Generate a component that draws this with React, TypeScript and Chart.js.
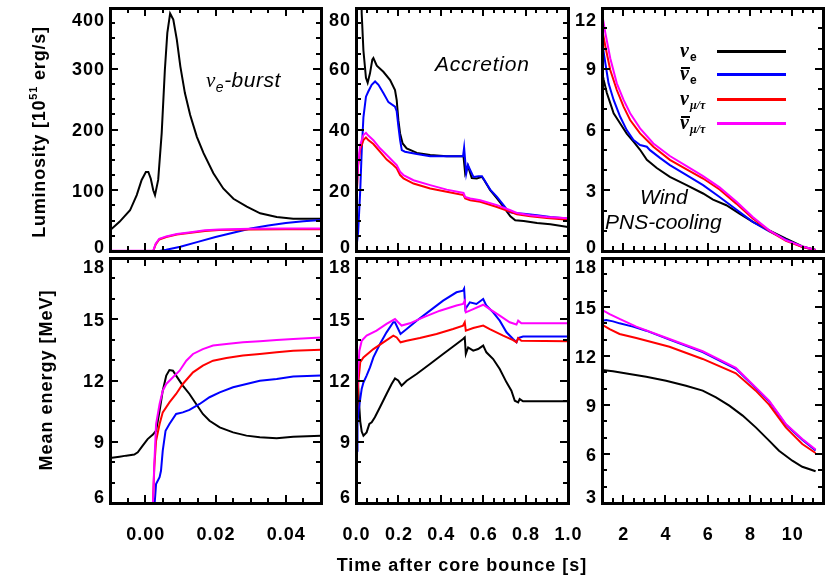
import React, { useEffect, useRef } from 'react';
import { Chart, registerables } from 'chart.js';

Chart.register(...registerables);

type Pt = [number, number];

const burstXTicks = [0, 0.02, 0.04];
const burstXLabels = ['0.00', '0.02', '0.04'];
const accXTicks = [0, 0.2, 0.4, 0.6, 0.8, 1.0];
const accXLabels = ['0.0', '0.2', '0.4', '0.6', '0.8', '1.0'];
const coolXTicks = [2, 4, 6, 8, 10];
const coolXLabels = ['2', '4', '6', '8', '10'];
const lumBurstYTicks = [0, 100, 200, 300, 400];
const lumAccYTicks = [0, 20, 40, 60, 80];
const lumCoolYTicks = [0, 3, 6, 9, 12];
const enYTicks = [6, 9, 12, 15, 18];
const enCoolYTicks = [3, 6, 9, 12, 15, 18];

const burstLumNuE: Pt[] = [
  [-0.01, 34], [-0.0073, 48], [-0.0043, 67], [-0.0024, 92], [-0.001, 117], [0.0002, 130], [0.0009, 130],
  [0.0016, 119], [0.0023, 100], [0.0028, 92], [0.0037, 117], [0.0047, 194], [0.0056, 298], [0.0063, 359],
  [0.0071, 391], [0.008, 381], [0.009, 348], [0.01, 304], [0.0113, 260], [0.0128, 224], [0.0147, 188],
  [0.0166, 161], [0.0194, 128], [0.0222, 103], [0.0251, 86], [0.0289, 73], [0.0327, 62], [0.0374, 56],
  [0.0421, 53], [0.05, 53],
];
const burstLumNuEbar: Pt[] = [
  [-0.01, 0], [0.004, 0], [0.006, 2], [0.01, 7], [0.015, 15], [0.02, 23], [0.025, 30], [0.03, 37],
  [0.035, 42], [0.04, 46], [0.045, 49], [0.05, 51],
];
const burstLumNuX: Pt[] = [
  [-0.01, 0], [0.0023, 0], [0.003, 11], [0.004, 19], [0.006, 23], [0.009, 27], [0.013, 30], [0.017, 33],
  [0.021, 34.5], [0.03, 35.5], [0.04, 36], [0.05, 36],
];
const burstLumNuXbar: Pt[] = [
  [-0.01, 0.5], [0.0023, 0.5], [0.003, 12], [0.004, 20], [0.006, 24], [0.009, 28], [0.013, 31], [0.017, 34],
  [0.021, 35.5], [0.03, 36.5], [0.04, 37], [0.05, 37],
];

const accLumNuE: Pt[] = [
  [0, 130], [0.007, 392], [0.014, 190], [0.02, 100], [0.027, 78], [0.035, 66], [0.047, 57], [0.055, 55.4],
  [0.066, 58.5], [0.077, 63], [0.082, 63.5], [0.098, 61], [0.129, 59], [0.161, 56.3], [0.184, 53],
  [0.192, 49.7], [0.2, 43], [0.208, 38.7], [0.22, 35.4], [0.239, 33.8], [0.287, 32.3], [0.35, 31.6],
  [0.428, 31.2], [0.507, 31.2], [0.515, 25.5], [0.528, 28], [0.546, 24], [0.57, 23.9], [0.594, 24.4],
  [0.605, 23.3], [0.633, 20], [0.665, 17.3], [0.696, 14.5], [0.728, 11.4], [0.751, 10.1], [0.791, 9.9],
  [0.854, 9.2], [0.917, 8.8], [1.0, 7.9],
];
const accLumNuEbar: Pt[] = [
  [0, 0], [0.004, 0], [0.01, 6], [0.02, 20], [0.027, 33], [0.035, 44], [0.047, 50.8], [0.058, 52.5],
  [0.074, 54.7], [0.09, 55.8], [0.106, 54.7], [0.129, 52], [0.153, 49], [0.184, 47.5], [0.192, 46],
  [0.2, 41], [0.208, 36.5], [0.216, 33.2], [0.231, 32.7], [0.287, 31.9], [0.35, 31.2], [0.505, 31.2],
  [0.51, 34], [0.52, 25.5], [0.528, 28.3], [0.539, 26.6], [0.554, 24.4], [0.578, 24.6], [0.594, 24.6],
  [0.606, 23.3], [0.633, 20.2], [0.665, 17.8], [0.696, 15.1], [0.72, 12.9], [0.743, 12.5], [0.791, 12.3],
  [0.854, 11.8], [0.917, 11.2], [1.0, 10.7],
];
const accLumNuX: Pt[] = [
  [0, 0], [0.002, 0], [0.004, 18], [0.01, 28], [0.02, 33.5], [0.035, 36.5], [0.047, 37.4], [0.058, 36.5],
  [0.082, 35.2], [0.113, 32.7], [0.145, 30.1], [0.176, 28.3], [0.192, 27.2], [0.208, 25], [0.224, 23.9],
  [0.271, 22.2], [0.35, 20.6], [0.428, 19.5], [0.507, 18.4], [0.515, 17.3], [0.539, 16.7], [0.586, 16.2],
  [0.665, 14.5], [0.728, 12.9], [0.759, 12.1], [0.822, 11.4], [0.9, 10.9], [1.0, 10.3],
];
const accLumNuXbar: Pt[] = [
  [0, 0], [0.002, 0], [0.004, 19], [0.01, 29], [0.02, 35], [0.035, 38.2], [0.047, 38.9], [0.058, 38],
  [0.082, 36.5], [0.113, 33.8], [0.145, 31.6], [0.176, 29.4], [0.192, 28.3], [0.208, 26.1], [0.224, 25],
  [0.271, 23.3], [0.35, 21.7], [0.428, 20.2], [0.507, 19.1], [0.515, 17.8], [0.539, 17.3], [0.586, 16.7],
  [0.665, 15.1], [0.728, 13.4], [0.759, 12.5], [0.822, 11.8], [0.9, 11.2], [1.0, 10.8],
];

const coolLumNuE: Pt[] = [
  [1.0, 8.86], [1.08, 8.45], [1.23, 7.8], [1.39, 7.3], [1.55, 6.8], [1.86, 6.3], [2.17, 5.8], [2.49, 5.4],
  [2.8, 5.0], [3.12, 4.5], [3.59, 4.1], [4.21, 3.66], [5.0, 3.25], [5.78, 2.84], [6.25, 2.54], [6.88, 2.26],
  [7.5, 1.85], [8.13, 1.44], [8.91, 1.02], [9.7, 0.61], [10.48, 0.23], [11.1, 0.05],
];
const coolLumNuEbar: Pt[] = [
  [1.0, 10.35], [1.16, 9.27], [1.31, 8.28], [1.55, 7.46], [1.86, 6.63], [2.17, 5.97], [2.49, 5.48],
  [2.8, 5.23], [3.12, 5.15], [3.27, 4.98], [3.74, 4.6], [4.21, 4.24], [5.0, 3.75], [5.78, 3.25],
  [6.56, 2.67], [7.35, 2.05], [8.13, 1.44], [8.91, 0.97], [9.7, 0.56], [10.48, 0.2], [11.1, 0.05],
];
const coolLumNuX: Pt[] = [
  [1.0, 11.0], [1.16, 10.1], [1.39, 8.94], [1.7, 7.95], [2.02, 7.13], [2.33, 6.47], [2.8, 5.81],
  [3.43, 5.15], [4.21, 4.5], [5.0, 4.03], [5.78, 3.58], [6.56, 3.04], [7.35, 2.34], [8.13, 1.6],
  [8.91, 0.99], [9.7, 0.5], [10.48, 0.2], [11.1, 0.05],
];
const coolLumNuXbar: Pt[] = [
  [1.0, 11.75], [1.16, 10.76], [1.39, 9.52], [1.7, 8.28], [2.02, 7.46], [2.33, 6.8], [2.8, 6.06],
  [3.43, 5.31], [4.21, 4.69], [5.0, 4.19], [5.78, 3.7], [6.56, 3.14], [7.35, 2.44], [8.13, 1.68],
  [8.91, 1.02], [9.7, 0.53], [10.48, 0.23], [11.1, 0.05],
];

const burstEnNuE: Pt[] = [
  [-0.01, 8.2], [-0.0073, 8.27], [-0.0054, 8.32], [-0.0031, 8.37], [-0.0021, 8.48], [-0.0007, 8.81],
  [0.0007, 9.13], [0.0022, 9.35], [0.0031, 9.54], [0.0041, 10.52], [0.005, 11.5], [0.006, 12.24],
  [0.0069, 12.51], [0.0079, 12.48], [0.0088, 12.24], [0.0107, 11.75], [0.0126, 11.34], [0.0145, 10.85],
  [0.0164, 10.36], [0.0183, 10.03], [0.0212, 9.7], [0.025, 9.46], [0.0288, 9.3], [0.0326, 9.22],
  [0.0374, 9.17], [0.0421, 9.25], [0.05, 9.3],
];
const burstEnNuEbar: Pt[] = [
  [0.0025, 5.5], [0.0031, 6.93], [0.0041, 7.26], [0.0045, 7.58], [0.005, 8.56], [0.0058, 9.54],
  [0.0069, 9.87], [0.0088, 10.36], [0.0107, 10.44], [0.0126, 10.56], [0.0155, 10.85], [0.0183, 11.18],
  [0.0212, 11.42], [0.025, 11.67], [0.0288, 11.83], [0.0326, 11.99], [0.0374, 12.07], [0.0421, 12.19],
  [0.05, 12.24],
];
const burstEnNuX: Pt[] = [
  [0.0021, 5.5], [0.0026, 7.75], [0.0031, 9.05], [0.0041, 9.87], [0.005, 10.44], [0.0069, 10.93],
  [0.0088, 11.34], [0.0107, 11.83], [0.0136, 12.4], [0.0164, 12.73], [0.0193, 12.97], [0.0231, 13.1],
  [0.0278, 13.22], [0.0326, 13.3], [0.0374, 13.38], [0.0421, 13.46], [0.05, 13.51],
];
const burstEnNuXbar: Pt[] = [
  [0.0021, 5.5], [0.0026, 7.91], [0.0031, 9.87], [0.0041, 10.85], [0.005, 11.5], [0.006, 11.83],
  [0.0079, 12.16], [0.0098, 12.48], [0.0117, 12.97], [0.0136, 13.3], [0.0164, 13.54], [0.0193, 13.71],
  [0.0231, 13.79], [0.0278, 13.87], [0.0326, 13.92], [0.0374, 13.98], [0.0421, 14.03], [0.05, 14.11],
];

const accEnNuE: Pt[] = [
  [0, 9.2], [0.007, 12.5], [0.012, 11.3], [0.02, 10.0], [0.027, 9.5], [0.035, 9.3], [0.05, 9.46],
  [0.063, 9.87], [0.074, 9.95], [0.089, 10.2], [0.113, 10.69], [0.144, 11.34], [0.168, 11.83],
  [0.184, 12.1], [0.199, 12.0], [0.215, 11.75], [0.239, 11.99], [0.286, 12.32], [0.349, 12.81],
  [0.411, 13.3], [0.474, 13.79], [0.505, 14.03], [0.513, 14.11], [0.518, 13.3], [0.529, 13.62],
  [0.553, 13.46], [0.576, 13.54], [0.6, 13.71], [0.615, 13.38], [0.647, 13.05], [0.678, 12.56],
  [0.71, 11.91], [0.733, 11.5], [0.749, 11.01], [0.765, 10.93], [0.772, 11.09], [0.788, 10.98],
  [0.851, 10.98], [1.0, 10.98],
];
const accEnNuEbar: Pt[] = [
  [0.0025, 5.5], [0.005, 8.56], [0.007, 9.87], [0.011, 10.44], [0.02, 11.1], [0.027, 11.6], [0.035, 11.9],
  [0.05, 12.24], [0.066, 12.64], [0.082, 13.13], [0.113, 13.79], [0.144, 14.36], [0.176, 14.85],
  [0.184, 14.85], [0.199, 14.52], [0.21, 14.28], [0.239, 14.52], [0.286, 14.93], [0.349, 15.42],
  [0.411, 15.91], [0.474, 16.32], [0.505, 16.4], [0.51, 16.5], [0.516, 15.5], [0.537, 15.83],
  [0.568, 15.75], [0.6, 15.99], [0.615, 15.67], [0.647, 15.34], [0.678, 14.93], [0.71, 14.36],
  [0.741, 14.03], [0.757, 13.87], [0.765, 14.08], [0.788, 14.15], [0.851, 14.15], [1.0, 14.15],
];
const accEnNuX: Pt[] = [
  [0.0021, 5.5], [0.0031, 9.05], [0.005, 10.44], [0.01, 11.8], [0.02, 12.9], [0.035, 13.13], [0.082, 13.54],
  [0.129, 13.87], [0.176, 14.2], [0.192, 14.11], [0.21, 13.87], [0.239, 13.95], [0.301, 14.08],
  [0.38, 14.28], [0.458, 14.52], [0.505, 14.69], [0.513, 14.85], [0.518, 14.44], [0.553, 14.57],
  [0.6, 14.69], [0.631, 14.52], [0.694, 14.2], [0.741, 13.98], [0.757, 13.87], [0.765, 14.08],
  [0.78, 13.95], [1.0, 13.92],
];
const accEnNuXbar: Pt[] = [
  [0.0021, 5.5], [0.0031, 9.87], [0.005, 11.5], [0.01, 12.5], [0.016, 13.46], [0.027, 13.95], [0.05, 14.2],
  [0.097, 14.44], [0.144, 14.77], [0.184, 15.01], [0.199, 14.85], [0.215, 14.69], [0.254, 14.8],
  [0.317, 15.09], [0.396, 15.42], [0.474, 15.67], [0.505, 15.75], [0.513, 15.91], [0.518, 15.34],
  [0.553, 15.5], [0.6, 15.71], [0.631, 15.5], [0.678, 15.18], [0.725, 14.85], [0.757, 14.74],
  [0.765, 14.93], [0.78, 14.8], [1.0, 14.8],
];

const coolEnNuE: Pt[] = [
  [1.0, 11.14], [1.52, 11.06], [2.3, 10.9], [3.09, 10.73], [4.03, 10.49], [4.97, 10.18], [5.76, 9.88],
  [6.39, 9.47], [7.02, 8.96], [7.65, 8.35], [8.27, 7.63], [8.9, 6.82], [9.37, 6.2], [10.0, 5.59],
  [10.47, 5.22], [11.1, 4.94],
];
const coolEnNuEbar: Pt[] = [
  [1.0, 14.16], [1.2, 14.2], [1.52, 14.12], [1.83, 14.0], [2.46, 13.8], [3.09, 13.55], [4.19, 13.0],
  [5.76, 12.24], [7.33, 11.22], [8.27, 10.04], [8.9, 9.22], [9.69, 7.8], [10.47, 6.88], [11.1, 6.22],
];
const coolEnNuX: Pt[] = [
  [1.0, 13.92], [1.36, 13.65], [1.83, 13.35], [2.62, 13.1], [4.19, 12.57], [5.76, 11.82], [7.33, 10.94],
  [8.27, 9.88], [8.9, 9.02], [9.69, 7.63], [10.47, 6.61], [11.1, 6.06],
];
const coolEnNuXbar: Pt[] = [
  [1.0, 14.82], [1.36, 14.57], [1.83, 14.27], [2.62, 13.8], [4.19, 13.04], [5.76, 12.29], [7.33, 11.27],
  [8.27, 10.08], [8.9, 9.27], [9.69, 7.84], [10.47, 6.92], [11.1, 6.27],
];

const W = 833;
const H = 578;
const COLORS = ['#000000', '#0000ff', '#ff0000', '#ff00ff'];
const SANS = '"Liberation Sans", Arial, Helvetica, sans-serif';
const SERIF = '"Liberation Serif", "Times New Roman", serif';

const COLS: [number, number][] = [[110, 321], [356, 568], [602, 823]];
const ROWS: [number, number][] = [[8, 251], [258, 503]];

interface PanelSpec {
  col: number;
  row: number;
  xRange: [number, number];
  yRange: [number, number];
  xTicks: number[];
  xLabels: string[] | null;
  xMinor: number;
  yTicks: number[];
  yMinor: number;
  endShift: [number, number];
  series: Pt[][];
}

const PANELS: PanelSpec[] = [
  { col: 0, row: 0, xRange: [-0.01, 0.05], yRange: [0, 400], xTicks: burstXTicks, xLabels: null, xMinor: 0.005,
    yTicks: lumBurstYTicks, yMinor: 25, endShift: [11, -5], series: [burstLumNuE, burstLumNuEbar, burstLumNuX, burstLumNuXbar] },
  { col: 1, row: 0, xRange: [0, 1], yRange: [0, 80], xTicks: accXTicks, xLabels: null, xMinor: 0.05,
    yTicks: lumAccYTicks, yMinor: 5, endShift: [11, -5], series: [accLumNuE, accLumNuEbar, accLumNuX, accLumNuXbar] },
  { col: 2, row: 0, xRange: [1, 11.45], yRange: [0, 12], xTicks: coolXTicks, xLabels: null, xMinor: 0.5,
    yTicks: lumCoolYTicks, yMinor: 1, endShift: [11, -5], series: [coolLumNuE, coolLumNuEbar, coolLumNuX, coolLumNuXbar] },
  { col: 0, row: 1, xRange: [-0.01, 0.05], yRange: [6, 18], xTicks: burstXTicks, xLabels: burstXLabels, xMinor: 0.005,
    yTicks: enYTicks, yMinor: 1, endShift: [8, -7], series: [burstEnNuE, burstEnNuEbar, burstEnNuX, burstEnNuXbar] },
  { col: 1, row: 1, xRange: [0, 1], yRange: [6, 18], xTicks: accXTicks, xLabels: accXLabels, xMinor: 0.05,
    yTicks: enYTicks, yMinor: 1, endShift: [8, -7], series: [accEnNuE, accEnNuEbar, accEnNuX, accEnNuXbar] },
  { col: 2, row: 1, xRange: [1, 11.45], yRange: [3, 18], xTicks: coolXTicks, xLabels: coolXLabels, xMinor: 0.5,
    yTicks: enCoolYTicks, yMinor: 1, endShift: [8, -7], series: [coolEnNuE, coolEnNuEbar, coolEnNuX, coolEnNuXbar] },
];

// tick values at multiples of `step` inside [lo, hi]
function multiples(lo: number, hi: number, step: number): number[] {
  const vals: number[] = [];
  const first = Math.ceil(lo / step - 1e-6);
  const count = Math.floor(hi / step + 1e-6) - first + 1;
  for (let i = 0; i < count; i++) vals.push((first + i) * step);
  return vals;
}

// tick marks as small boxes, positioned with the same linear map as the chart area
function tickBoxes(p: PanelSpec) {
  const [L, R] = COLS[p.col];
  const [T, B] = ROWS[p.row];
  const fx = (v: number) => L + ((v - p.xRange[0]) / (p.xRange[1] - p.xRange[0])) * (R - L);
  const fy = (v: number) => B - ((v - p.yRange[0]) / (p.yRange[1] - p.yRange[0])) * (B - T);
  const boxes: { left: number; top: number; width: number; height: number }[] = [];
  multiples(p.xRange[0], p.xRange[1], p.xMinor).forEach((v) => {
    const major = p.xTicks.some((m) => Math.abs(m - v) < p.xMinor / 100);
    const len = major ? 8 : 5;
    const px = Math.round(fx(v));
    if (px - L < 3 || R - px < 3) return;
    boxes.push({ left: px - 1, top: B - len, width: 2, height: len });
    boxes.push({ left: px - 1, top: T, width: 2, height: len });
  });
  multiples(p.yRange[0], p.yRange[1], p.yMinor).forEach((v) => {
    const major = p.yTicks.some((m) => Math.abs(m - v) < p.yMinor / 100);
    const len = major ? 8 : 5;
    const py = Math.round(fy(v));
    if (py - T < 3 || B - py < 3) return;
    boxes.push({ left: L, top: py - 1, width: len, height: 2 });
    boxes.push({ left: R - len, top: py - 1, width: len, height: 2 });
  });
  return boxes;
}

function drawFrame(chart: any, p: PanelSpec) {
  const ctx: CanvasRenderingContext2D = chart.ctx;
  const xs = chart.scales.x;
  const ys = chart.scales.y;
  const L = Math.round(xs.getPixelForValue(p.xRange[0]));
  const R = Math.round(xs.getPixelForValue(p.xRange[1]));
  const T = Math.round(ys.getPixelForValue(p.yRange[1]));
  const B = Math.round(ys.getPixelForValue(p.yRange[0]));
  ctx.save();
  ctx.fillStyle = '#000000';
  ctx.fillRect(L - 1, T - 1, R - L + 3, 3);
  ctx.fillRect(L - 1, B - 1, R - L + 3, 3);
  ctx.fillRect(L - 1, T - 1, 3, B - T + 3);
  ctx.fillRect(R - 1, T - 1, 3, B - T + 3);

  ctx.font = `bold 18px ${SANS}`;
  (ctx as any).letterSpacing = '1px';
  ctx.textBaseline = 'alphabetic';
  ctx.textAlign = 'right';
  p.yTicks.forEach((v) => {
    let py = ys.getPixelForValue(v);
    if (Math.abs(v - p.yRange[1]) < 1e-9) py += p.endShift[0];
    if (Math.abs(v - p.yRange[0]) < 1e-9) py += p.endShift[1];
    ctx.fillText(String(v), L - 5, py + 6.5);
  });
  if (p.xLabels) {
    ctx.textAlign = 'center';
    p.xTicks.forEach((v, i) => {
      ctx.fillText(p.xLabels![i], xs.getPixelForValue(v) + 0.5, B + 37);
    });
  }
  ctx.restore();
}

function PanelChart({ spec }: { spec: PanelSpec }) {
  const ref = useRef<HTMLCanvasElement | null>(null);
  useEffect(() => {
    const canvas = ref.current;
    if (!canvas) return;
    const [left, right] = COLS[spec.col];
    const [top, bottom] = ROWS[spec.row];
    const chart = new Chart(canvas, {
      type: 'line',
      data: {
        datasets: spec.series.map((s, i) => ({
          data: s.map(([x, y]) => ({ x, y })),
          borderColor: COLORS[i],
          backgroundColor: COLORS[i],
          borderWidth: 2,
          pointRadius: 0,
          tension: 0,
          fill: false,
          order: 3 - i,
        })),
      },
      options: {
        responsive: false,
        maintainAspectRatio: false,
        animation: false,
        events: [],
        layout: { padding: { left, top, right: W - right, bottom: H - bottom } },
        scales: {
          x: { type: 'linear', min: spec.xRange[0], max: spec.xRange[1], display: false },
          y: { type: 'linear', min: spec.yRange[0], max: spec.yRange[1], display: false },
        },
        plugins: { legend: { display: false }, tooltip: { enabled: false } },
      },
      plugins: [{ id: 'idlFrame', afterDraw: (c: any) => drawFrame(c, spec) }],
    } as any);
    return () => chart.destroy();
  }, [spec]);
  const boxes = tickBoxes(spec);
  return (
    <>
      <canvas ref={ref} width={W} height={H} style={{ position: 'absolute', left: 0, top: 0, width: W, height: H }} />
      {boxes.map((b, i) => (
        <div
          key={'t' + i}
          style={{ position: 'absolute', left: b.left, top: b.top, width: b.width, height: b.height, backgroundColor: 'black', zIndex: 5 }}
        />
      ))}
    </>
  );
}

const textBase: React.CSSProperties = {
  position: 'absolute',
  fontFamily: SANS,
  color: '#000',
  whiteSpace: 'nowrap',
};

function Nu({ bar, sub, subItalic }: { bar?: boolean; sub: string; subItalic?: boolean }) {
  return (
    <span style={{ fontFamily: SERIF, fontStyle: 'italic', fontWeight: 'bold', fontSize: 20 }}>
      <span style={{ position: 'relative', display: 'inline-block' }}>
        ν
        {bar && (
          <span style={{ position: 'absolute', left: 1, right: -1, top: 4, height: 1.6, background: '#000' }} />
        )}
      </span>
      <span
        style={{
          fontSize: 12,
          position: 'relative',
          top: 4,
          marginLeft: 1,
          fontFamily: subItalic ? SERIF : SANS,
          fontStyle: subItalic ? 'italic' : 'normal',
          fontWeight: 'bold',
        }}
      >
        {sub}
      </span>
    </span>
  );
}

const LEGEND_ROWS = [
  { lineY: 51, bar: false, sub: 'e', subItalic: false },
  { lineY: 74, bar: true, sub: 'e', subItalic: false },
  { lineY: 99, bar: false, sub: 'μ/τ', subItalic: true },
  { lineY: 123, bar: true, sub: 'μ/τ', subItalic: true },
];

export default function App() {
  useEffect(() => {
    document.body.style.margin = '0';
  }, []);
  return (
    <div style={{ position: 'fixed', left: 0, top: 0, width: W, height: H, background: '#fff', overflow: 'hidden' }}>
      {PANELS.map((p, i) => (
        <PanelChart key={i} spec={p} />
      ))}

      <div style={{ ...textBase, left: 206, top: 87 - 18, fontSize: 21, lineHeight: '21px', fontStyle: 'italic', letterSpacing: '0.5px' }}>
        <span style={{ fontFamily: SERIF }}>ν</span>
        <span style={{ fontSize: 14, position: 'relative', top: 5 }}>e</span>-burst
      </div>
      <div style={{ ...textBase, left: 435, top: 71 - 18, fontSize: 21, lineHeight: '21px', fontStyle: 'italic', letterSpacing: '0.8px' }}>
        Accretion
      </div>
      <div style={{ ...textBase, left: 640, top: 204 - 18, fontSize: 21, lineHeight: '21px', fontStyle: 'italic' }}>
        Wind
      </div>
      <div style={{ ...textBase, left: 605, top: 229 - 18, fontSize: 21, lineHeight: '21px', fontStyle: 'italic' }}>
        PNS-cooling
      </div>

      {LEGEND_ROWS.map((r, i) => (
        <React.Fragment key={i}>
          <div style={{ ...textBase, left: 680, top: r.lineY + 6 - 17, lineHeight: '20px' }}>
            <Nu bar={r.bar} sub={r.sub} subItalic={r.subItalic} />
          </div>
          <div style={{ position: 'absolute', left: 717, top: r.lineY - 1.5, width: 69, height: 3, background: COLORS[i] }} />
        </React.Fragment>
      ))}

      <div
        style={{
          ...textBase, left: 39 - 150, top: 132 - 10, width: 300, height: 20, lineHeight: '20px',
          fontSize: 18, fontWeight: 'bold', letterSpacing: '0.8px', textAlign: 'center', transform: 'rotate(-90deg)',
        }}
      >
        Luminosity [10<span style={{ fontSize: 11, position: 'relative', top: -8 }}>51</span> erg/s]
      </div>
      <div
        style={{
          ...textBase, left: 46 - 150, top: 380 - 10, width: 300, height: 20, lineHeight: '20px',
          fontSize: 18, fontWeight: 'bold', letterSpacing: '1px', textAlign: 'center', transform: 'rotate(-90deg)',
        }}
      >
        Mean energy [MeV]
      </div>
      <div
        style={{
          ...textBase, left: 462 - 200, top: 571 - 16, width: 400, height: 20, lineHeight: '20px',
          fontSize: 18, fontWeight: 'bold', letterSpacing: '1px', textAlign: 'center',
        }}
      >
        Time after core bounce [s]
      </div>
    </div>
  );
}
